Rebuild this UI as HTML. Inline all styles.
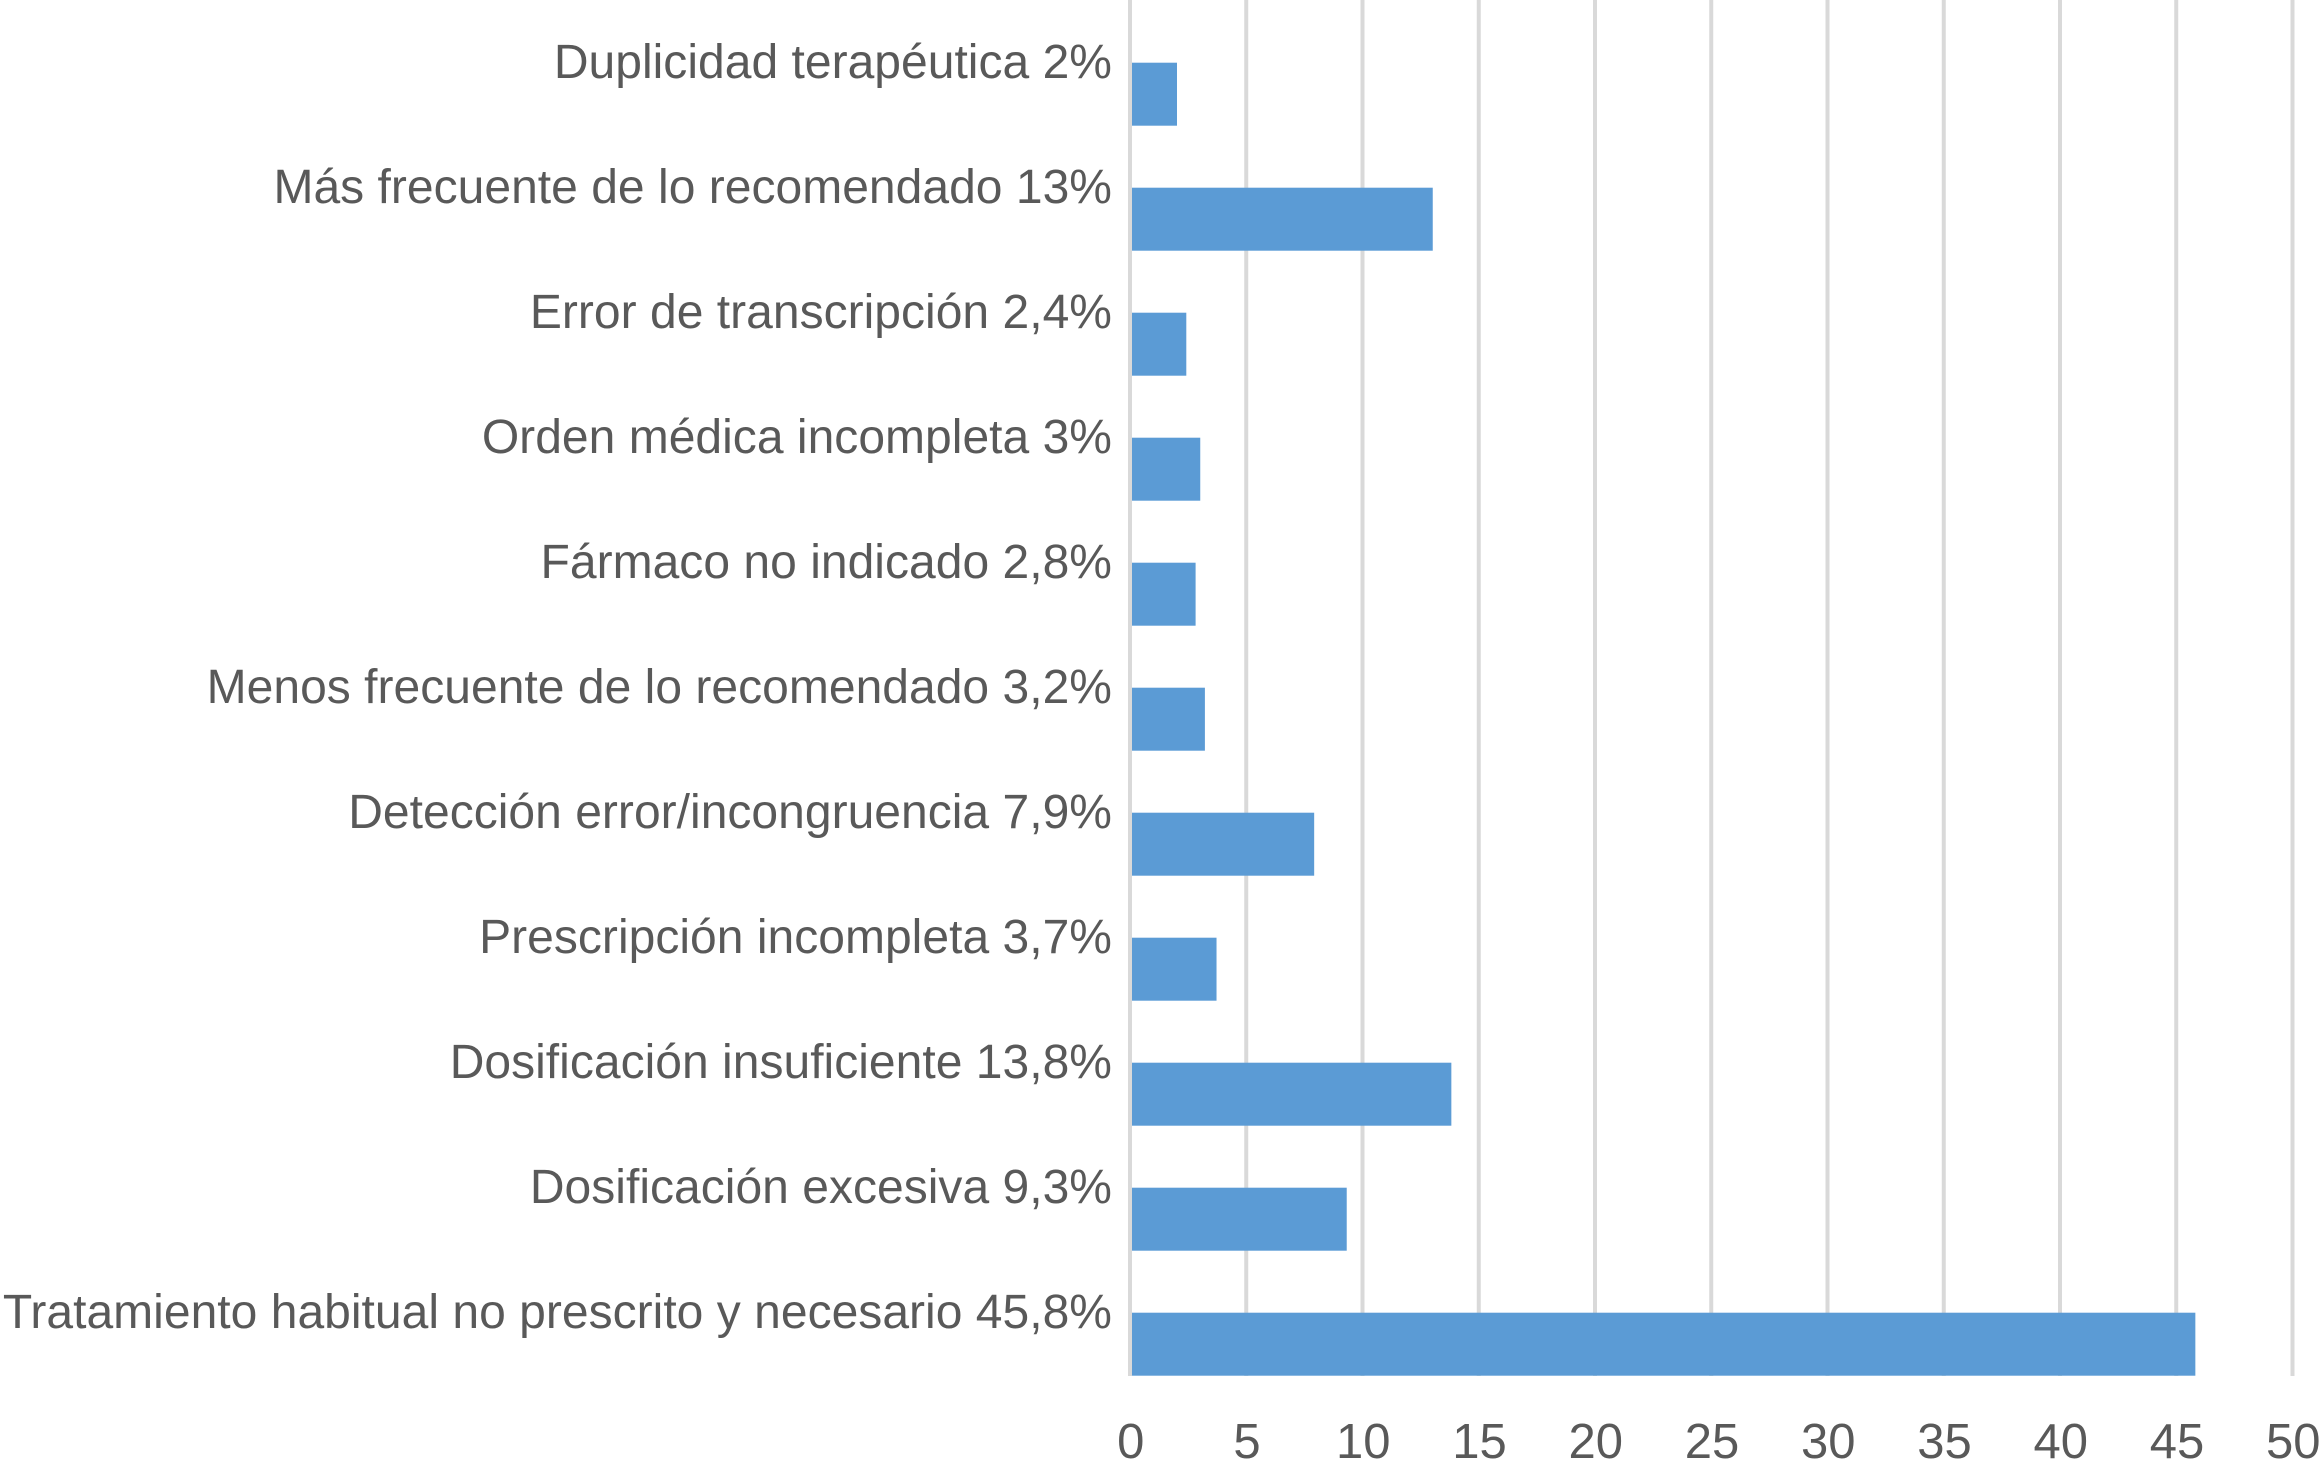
<!DOCTYPE html>
<html lang="es">
<head>
<meta charset="utf-8">
<title>Tipos de error de medicación</title>
<style>
html,body{margin:0;padding:0;background:#fff;}
#chart{display:block;width:2321px;height:1469px;font-family:"Liberation Sans",Arial,sans-serif;}
text{fill:#595959;font-size:48px;}
#ticks text{font-size:49px;}
#categories text{letter-spacing:0.02px;}
</style>
</head>
<body>
<svg id="chart" xmlns="http://www.w3.org/2000/svg" width="2321" height="1469" viewBox="0 0 2321 1469">
  <g id="gridlines"></g>
  <g id="bars"></g>
  <g id="categories"></g>
  <g id="ticks"></g>
</svg>
<script>
var categories = [
  "Duplicidad terapéutica",
  "Más frecuente de lo recomendado",
  "Error de transcripción",
  "Orden médica incompleta",
  "Fármaco no indicado",
  "Menos frecuente de lo recomendado",
  "Detección error/incongruencia",
  "Prescripción incompleta",
  "Dosificación insuficiente",
  "Dosificación excesiva",
  "Tratamiento habitual no prescrito y necesario"
];
var values = [2, 13, 2.4, 3, 2.8, 3.2, 7.9, 3.7, 13.8, 9.3, 45.8];
var tickValues = [0, 5, 10, 15, 20, 25, 30, 35, 40, 45, 50];

var NS = "http://www.w3.org/2000/svg";
var plotLeft = 1130, plotRight = 2292.5, plotTop = 0, plotBottom = 1376;
var axisMax = 50, bandTop = 62.7, bandStep = 125, barHeight = 63;

function xScale(v) { return plotLeft + (v / axisMax) * (plotRight - plotLeft); }
function yBand(i) { return bandTop + i * bandStep; }
function fmt(v) { return String(v).replace(".", ",") + "%"; }
function make(tag, attrs, parent) {
  var el = document.createElementNS(NS, tag);
  for (var k in attrs) { el.setAttribute(k, attrs[k]); }
  parent.appendChild(el);
  return el;
}

var gridG = document.getElementById("gridlines");
var barsG = document.getElementById("bars");
var catG = document.getElementById("categories");
var tickG = document.getElementById("ticks");

tickValues.forEach(function (t) {
  var x = xScale(t);
  var line = make("line", { x1: x, x2: x, y1: plotTop, y2: plotBottom, stroke: "#d9d9d9", "stroke-width": 4 }, gridG);
  
  
  var label = make("text", { x: x + 0.7, y: 1458, "text-anchor": "middle" }, tickG);
  label.textContent = String(t);
  
  
});

categories.forEach(function (name, i) {
  var start = xScale(0) + 2;
  var bar = make("rect", { x: start, y: yBand(i), width: Math.max(0, xScale(values[i]) + 0.5 - start), height: barHeight, fill: "#5b9bd5" }, barsG);
  
  
  var label = make("text", { x: 1112, y: yBand(i) + 15.3, "text-anchor": "end" }, catG);
  label.textContent = name + " " + fmt(values[i]);
  
  
});
</script>
</body>
</html>
